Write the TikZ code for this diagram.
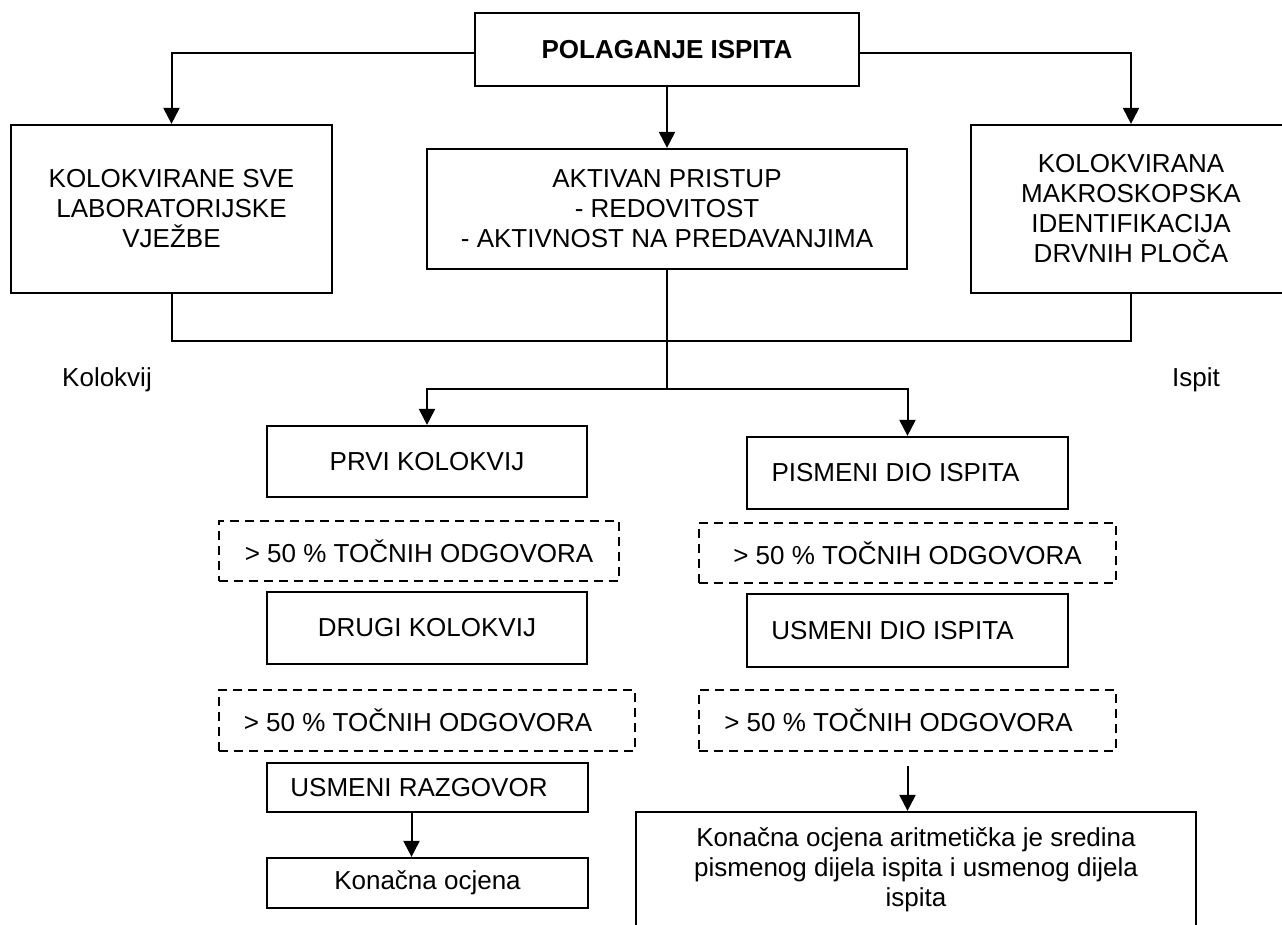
\documentclass[tikz,border=0pt]{standalone}
\usepackage{fontspec}
\setmainfont{Liberation Sans}
\usetikzlibrary{arrows.meta}
\begin{document}
\begin{tikzpicture}[x=1pt,y=-1pt,
  box/.style={draw,line width=2.2pt,rectangle,inner sep=0pt,align=center,
    font=\fontsize{26}{30}\selectfont},
  dbox/.style={box,dashed,dash pattern=on 9pt off 6pt,line width=2pt},
  conn/.style={line width=2pt},
  arr/.style={conn,-{Triangle[length=16pt,width=16pt]}},
  lbl/.style={inner sep=0pt,font=\fontsize{26}{30}\selectfont}]
\clip (0,0) rectangle (1282,924);
\fill[white] (0,0) rectangle (1282,924);

\node[box,minimum width=384,minimum height=73] (top) at (667,49.5) {\bfseries POLAGANJE ISPITA};
\node[box,minimum width=321,minimum height=168] (left) at (171.5,209) {KOLOKVIRANE SVE\\LABORATORIJSKE\\VJEŽBE};
\node[box,minimum width=480,minimum height=120] (mid) at (667,209) {AKTIVAN PRISTUP\\- REDOVITOST\\- AKTIVNOST NA PREDAVANJIMA};
\node[box,minimum width=320,minimum height=168] (right) at (1131,209) {KOLOKVIRANA\\MAKROSKOPSKA\\IDENTIFIKACIJA\\DRVNIH PLOČA};

\node[lbl] (kol) at (107,380) {Kolokvij};
\node[lbl] (isp) at (1196,380) {Ispit};

\node[box,minimum width=320,minimum height=71] (prvi) at (427,461.5) {PRVI KOLOKVIJ};
\node[dbox,minimum width=400,minimum height=60] (d1) at (419,551) {> 50 \% TOČNIH ODGOVORA};
\node[box,minimum width=320,minimum height=72] (drugi) at (427,628) {DRUGI KOLOKVIJ};
\node[dbox,minimum width=416,minimum height=61] (d2) at (427,720.5) {> 50 \% TOČNIH ODGOVORA\hspace{18pt}};
\node[box,minimum width=321,minimum height=49] (usmr) at (427.5,787.5) {USMENI RAZGOVOR\hspace{17pt}};
\node[box,minimum width=321,minimum height=50] (kon) at (427.5,883) {Konačna ocjena};

\node[box,minimum width=321,minimum height=72] (pis) at (907.5,473) {PISMENI DIO ISPITA\hspace{24pt}};
\node[dbox,minimum width=417,minimum height=60] (d3) at (907.5,553) {> 50 \% TOČNIH ODGOVORA};
\node[box,minimum width=321,minimum height=73] (usd) at (907.5,630.5) {USMENI DIO ISPITA\hspace{30pt}};
\node[dbox,minimum width=417,minimum height=61] (d4) at (907.5,720.5) {> 50 \% TOČNIH ODGOVORA\hspace{18pt}};
\node[box,minimum width=560,minimum height=116] (final) at (916,870) {Konačna ocjena aritmetička je sredina\\pismenog dijela ispita i usmenog dijela\\ispita};

\coordinate (jr) at (1131,341);
\coordinate (split) at (667,389);

\draw[arr] ([yshift=-3.5pt]top.west) -| (left.north);
\draw[arr] ([yshift=-3.5pt]top.east) -| (right.north);
\draw[arr] (top.south) -- (mid.north);
\draw[conn] (left.south) |- (jr) -- (right.south);
\draw[conn] (mid.south) -- (split);
\draw[arr] (split) -| (prvi.north);
\draw[arr] (split) -| (pis.north);
\draw[arr] ([xshift=-16pt]usmr.south) -- ([xshift=-16pt]kon.north);
\draw[arr] ([yshift=-14pt]d4.south) -- (d4.south |- final.north);
\end{tikzpicture}
\end{document}
